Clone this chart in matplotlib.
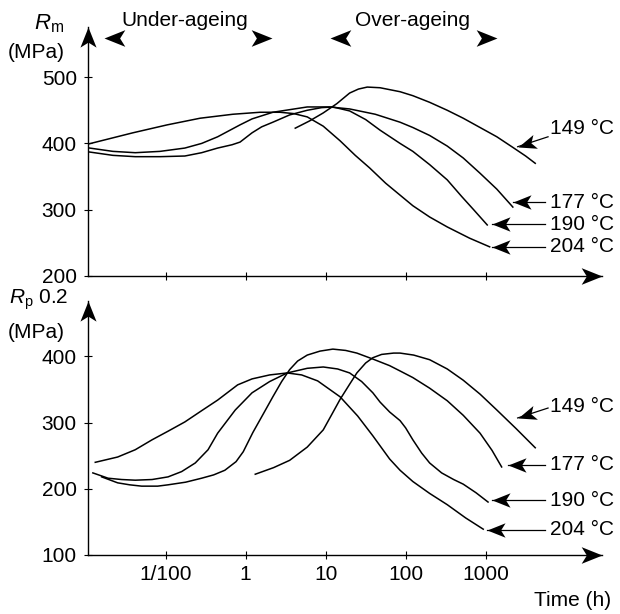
import matplotlib
matplotlib.use("Agg")
import matplotlib.pyplot as plt
import numpy as np
from matplotlib.path import Path
from matplotlib.markers import MarkerStyle
from matplotlib.transforms import Affine2D

plt.rcParams['font.family'] = ['Liberation Sans', 'DejaVu Sans']
plt.rcParams['font.size'] = 15
plt.rcParams['mathtext.fontset'] = 'custom'
plt.rcParams['mathtext.rm'] = 'Liberation Sans'
plt.rcParams['mathtext.it'] = 'Liberation Sans:italic'

# log10 of ageing time (h) and strength (MPa)
# tensile strength Rm
t204_rm = [-1.97, -1.41, -0.98, -0.57, -0.16, 0.18, 0.43, 0.60, 0.77, 0.97, 1.18, 1.37, 1.55, 1.75,
           2.09, 2.30, 2.52, 2.80, 3.05]
rm_204 = [399, 416, 428, 438, 444, 447, 447, 445, 440, 426, 404, 382, 363, 340,
          306, 289, 274, 257, 244]
t190_rm = [-1.95, -1.66, -1.38, -1.07, -0.76, -0.55, -0.35, -0.17, -0.07, 0.08, 0.20, 0.34, 0.55,
           0.77, 0.95, 1.09, 1.30, 1.50, 1.68, 1.93, 2.09, 2.30, 2.52, 2.70, 2.85, 3.02]
rm_190 = [387, 382, 380, 380, 381, 386, 393, 398, 402, 416, 425, 432, 443,
          450, 454, 455, 449, 436, 420, 400, 388, 368, 345, 320, 300, 277]
t177_rm = [-1.95, -1.66, -1.38, -1.07, -0.76, -0.55, -0.35, -0.07, 0.08, 0.34, 0.77, 1.05, 1.30,
           1.62, 1.93, 2.09, 2.30, 2.52, 2.72, 2.93, 3.14, 3.34]
rm_177 = [393, 388, 386, 388, 393, 400, 410, 428, 437, 447, 455, 455, 452,
          444, 432, 424, 412, 396, 378, 355, 331, 304]
t149_rm = [0.62, 0.80, 0.97, 1.14, 1.30, 1.41, 1.52, 1.68, 1.93, 2.09, 2.30, 2.52, 2.72, 2.93,
           3.14, 3.34, 3.50, 3.62]
rm_149 = [423, 434, 446, 460, 476, 482, 485, 484, 478, 472, 462, 450, 438, 424,
          410, 394, 381, 370]

# yield strength Rp0.2
t204_rp = [-1.88, -1.60, -1.38, -1.17, -0.97, -0.76, -0.55, -0.35, -0.10, 0.08, 0.30, 0.52, 0.70,
           0.90, 1.18, 1.40, 1.59, 1.80, 1.93, 2.09, 2.30, 2.52, 2.75, 2.97]
rp_204 = [240, 248, 259, 274, 287, 301, 318, 334, 357, 366, 372, 375, 372,
          363, 339, 310, 280, 245, 228, 211, 193, 176, 156, 139]
t190_rp = [-1.91, -1.72, -1.55, -1.38, -1.17, -0.97, -0.80, -0.63, -0.47, -0.35, -0.13, 0.08, 0.30,
           0.52, 0.77, 0.97, 1.15, 1.30, 1.45, 1.59, 1.68, 1.80, 1.93, 2.00, 2.09, 2.20, 2.30,
           2.45, 2.60, 2.72, 2.88, 3.03]
rp_190 = [224, 216, 214, 213, 214, 218, 226, 239, 259, 284, 319, 345, 362,
          375, 382, 384, 381, 375, 362, 345, 331, 316, 303, 292, 274, 254, 239,
          224, 214, 207, 194, 180]
t177_rp = [-1.80, -1.60, -1.45, -1.30, -1.10, -0.97, -0.75, -0.55, -0.40, -0.26, -0.12, -0.03, 0.09,
           0.22, 0.34, 0.45, 0.55, 0.65, 0.77, 0.93, 1.09, 1.25, 1.39, 1.59, 1.80, 1.93, 2.09,
           2.30, 2.52, 2.72, 2.93, 3.08, 3.20]
rp_177 = [218, 209, 206, 204, 204, 206, 210, 216, 221, 228, 241, 256, 285,
          313, 339, 362, 380, 393, 402, 408, 411, 409, 405, 396, 386, 378, 368,
          352, 333, 311, 284, 258, 233]
t149_rp = [0.12, 0.35, 0.55, 0.77, 0.97, 1.08, 1.18, 1.30, 1.39, 1.50, 1.59, 1.70, 1.85, 1.93,
           2.10, 2.30, 2.52, 2.72, 2.93, 3.14, 3.38, 3.62]
rp_149 = [222, 232, 243, 263, 289, 313, 335, 358, 375, 390, 398, 403, 405, 405,
          402, 395, 381, 364, 343, 319, 291, 262]

temps = ['149 °C', '177 °C', '190 °C', '204 °C']
# label arrows: tip (log t, MPa), tail (log t, MPa), text height (MPa)
rm_tips = [(3.40, 395), (3.34, 311), (3.08, 278), (3.08, 244)]
rm_tails = [(3.78, 410), (3.74, 311), (3.74, 278), (3.74, 244)]
rm_text_y = [423, 311, 278, 244]
rp_tips = [(3.40, 307), (3.28, 236), (3.08, 183), (3.02, 138)]
rp_tails = [(3.78, 322), (3.74, 236), (3.74, 183), (3.74, 138)]
rp_text_y = [325, 236, 183, 138]

xticks = [0.1, 1, 10, 100, 1000]
xtick_labels = ['1/100', '1', '10', '100', '1000']

fig = plt.figure(figsize=(6.2, 6.14), dpi=100)
ax1 = fig.add_axes([0.1419, 0.5505, 0.829, 0.4055])
ax2 = fig.add_axes([0.1419, 0.0961, 0.829, 0.4137])

xmin, xmax = 10 ** -1.971, 10 ** 4.454
lw = 1.1


def head(angle):
    # barbed arrow head, tip at the origin, pointing along +x then rotated
    verts = [(0, 0), (-1, 0.4), (-0.75, 0), (-1, -0.4), (0, 0)]
    codes = [Path.MOVETO, Path.LINETO, Path.LINETO, Path.LINETO, Path.CLOSEPOLY]
    return MarkerStyle(Path(verts, codes), transform=Affine2D().rotate_deg(angle))


def setup(ax, ylo, yhi, yticks):
    ax.set_xscale('log')
    ax.set_xlim(xmin, xmax)
    ax.set_ylim(ylo, yhi)
    for s in ax.spines.values():
        s.set_visible(False)
    ax.set_yticks(yticks)
    ax.set_xticks(xticks)
    ax.xaxis.set_minor_locator(matplotlib.ticker.NullLocator())
    ax.tick_params(direction='inout', length=6, width=0.8, labelsize=15)
    ax.tick_params(axis='x', pad=4)
    ax.tick_params(axis='y', pad=5)
    ax.plot([0, 1], [0, 0], color='k', lw=1.0, transform=ax.transAxes, clip_on=False)
    ax.plot([0, 0], [0, 1], color='k', lw=1.0, transform=ax.transAxes, clip_on=False)
    ax.plot([1], [0], marker=head(0), ms=30, mew=0, color='k',
            transform=ax.transAxes, clip_on=False)
    ax.plot([0], [1], marker=head(90), ms=29, mew=0, color='k',
            transform=ax.transAxes, clip_on=False)


setup(ax1, 200, 575.6, [200, 300, 400, 500])
setup(ax2, 100, 483.7, [100, 200, 300, 400])
ax1.set_xticklabels([])
ax2.set_xticklabels(xtick_labels)

for t, v in [(t149_rm, rm_149), (t177_rm, rm_177), (t190_rm, rm_190), (t204_rm, rm_204)]:
    ax1.plot(10 ** np.array(t), v, color='k', lw=lw)
for t, v in [(t149_rp, rp_149), (t177_rp, rp_177), (t190_rp, rp_190), (t204_rp, rp_204)]:
    ax2.plot(10 ** np.array(t), v, color='k', lw=lw)

for ax, tips, tails, ty in [(ax1, rm_tips, rm_tails, rm_text_y),
                            (ax2, rp_tips, rp_tails, rp_text_y)]:
    for name, (lt, v), (lt0, v0), y in zip(temps, tips, tails, ty):
        tip = (10 ** lt, v)
        tail = (10 ** lt0, v0)
        ax.plot([tail[0], tip[0]], [tail[1], tip[1]], color='k', lw=0.9, clip_on=False)
        p0 = ax.transData.transform(tail)
        p1 = ax.transData.transform(tip)
        ang = np.degrees(np.arctan2(p1[1] - p0[1], p1[0] - p0[0]))
        ax.plot([tip[0]], [tip[1]], marker=head(ang), ms=26, mew=0, color='k', clip_on=False)
        ax.text(10 ** 3.80, y, name, ha='left', va='center', fontsize=15, clip_on=False)

# y labels
fig.text(0.055, 0.962, r'$R_{\mathrm{m}}$', fontsize=16, ha='left', va='center')
fig.text(0.012, 0.915, '(MPa)', fontsize=15, ha='left', va='center')
fig.text(0.015, 0.511, r'$R_{\mathrm{p}}$' + ' 0.2', fontsize=15, ha='left', va='center')
fig.text(0.012, 0.458, '(MPa)', fontsize=15, ha='left', va='center')
fig.text(0.985, 0.022, 'Time (h)', fontsize=15, ha='right', va='center')

# ageing regime headers
fig.text(0.298, 0.967, 'Under-ageing', fontsize=15, ha='center', va='center')
fig.text(0.666, 0.967, 'Over-ageing', fontsize=15, ha='center', va='center')
for xpx, ang in [(104, 180), (272, 0), (330, 180), (497, 0)]:
    ax1.plot([xpx / 620], [1 - 38 / 614], marker=head(ang), ms=30, mew=0, color='k',
             transform=fig.transFigure, clip_on=False)

fig.savefig('out.png', dpi=100)
